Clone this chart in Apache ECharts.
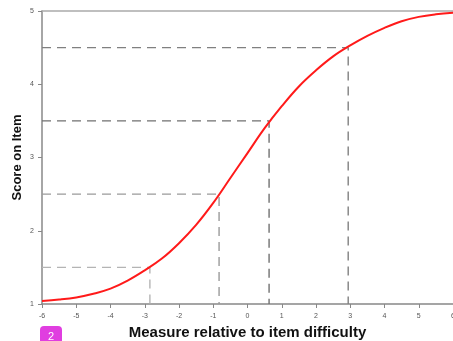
<!DOCTYPE html>
<html><head><meta charset="utf-8">
<script src="https://cdn.jsdelivr.net/npm/echarts@6/dist/echarts.min.js"></script>
<style>html,body{margin:0;padding:0;background:#fff}#c{width:453px;height:341px}</style>
</head><body><div id="c"></div>
<script>
const measures = [-6,-5.5,-5,-4.5,-4,-3.5,-3,-2.5,-2,-1.5,-1,-0.5,0,0.5,1,1.5,2,2.5,3,3.5,4,4.5,5,5.5,6];
const scores = [1.04,1.06,1.09,1.14,1.21,1.32,1.46,1.62,1.83,2.08,2.38,2.72,3.06,3.40,3.70,3.97,4.19,4.38,4.53,4.66,4.77,4.86,4.92,4.955,4.975];
const guideMeasures = [-2.85,-0.83,0.63,2.94];
const guideScores = [1.5,2.5,3.5,4.5];
const guideColors = ['#b4b4b4','#9a9a9a','#707070','#808080'];
const xTicks = [-6,-5,-4,-3,-2,-1,0,1,2,3,4,5,6];
const yTicks = [1,2,3,4,5];

const chart = echarts.init(document.getElementById('c'));
const series = [];
guideMeasures.forEach((gx,i)=>{
  series.push({type:'line',data:[[xTicks[0],guideScores[i]],[gx,guideScores[i]],[gx,yTicks[0]]],
    symbol:'none',silent:true,lineStyle:{color:guideColors[i],width:1.4,type:[9,6]},z:2});
});
series.push({type:'line',data:measures.map((m,i)=>[m,scores[i]]),smooth:0.4,symbol:'none',
  lineStyle:{color:'#ff1a1a',width:2},z:5});
chart.setOption({
  animation:false,
  grid:{left:42,right:0,top:11,bottom:37,outerBoundsMode:'none',containLabel:false},
  xAxis:[{type:'value',min:-6,max:6,interval:1,
    name:'Measure relative to item difficulty',nameLocation:'middle',nameGap:18,
    nameTextStyle:{fontFamily:'Liberation Sans',fontWeight:'bold',fontSize:15,color:'#111'},
    axisLine:{onZero:false,lineStyle:{color:'#888',width:1.5}},
    axisTick:{length:4,inside:false,lineStyle:{color:'#888'}},
    axisLabel:{fontSize:7,color:'#555',margin:9,fontFamily:'Liberation Sans',showMaxLabel:true},
    splitLine:{show:false}},
    {type:'value',position:'top',min:-6,max:6,axisLine:{show:true,onZero:false,lineStyle:{color:'#aaa',width:1.5}},
    axisTick:{show:false},axisLabel:{show:false},splitLine:{show:false}}],
  yAxis:{type:'value',min:1,max:5,interval:1,
    name:'Score on Item',nameLocation:'middle',nameGap:18,nameMoveOverlap:false,
    nameTextStyle:{fontFamily:'Liberation Sans',fontWeight:'bold',fontSize:13,color:'#111'},
    axisLine:{show:true,onZero:false,lineStyle:{color:'#888',width:1.5}},
    axisTick:{show:true,length:4,lineStyle:{color:'#888'}},
    axisLabel:{fontSize:7,color:'#555',margin:8,fontFamily:'Liberation Sans'},
    splitLine:{show:false}},
  series:series,
  graphic:[{type:'group',left:40,top:326,children:[
    {type:'rect',shape:{x:0,y:0,width:22,height:18,r:4},style:{fill:'#e03ee0'}},
    {type:'text',style:{x:11,y:5,text:'2',fill:'#fff',fontSize:11,align:'center',verticalAlign:'top'}}]}]
});
</script></body></html>
